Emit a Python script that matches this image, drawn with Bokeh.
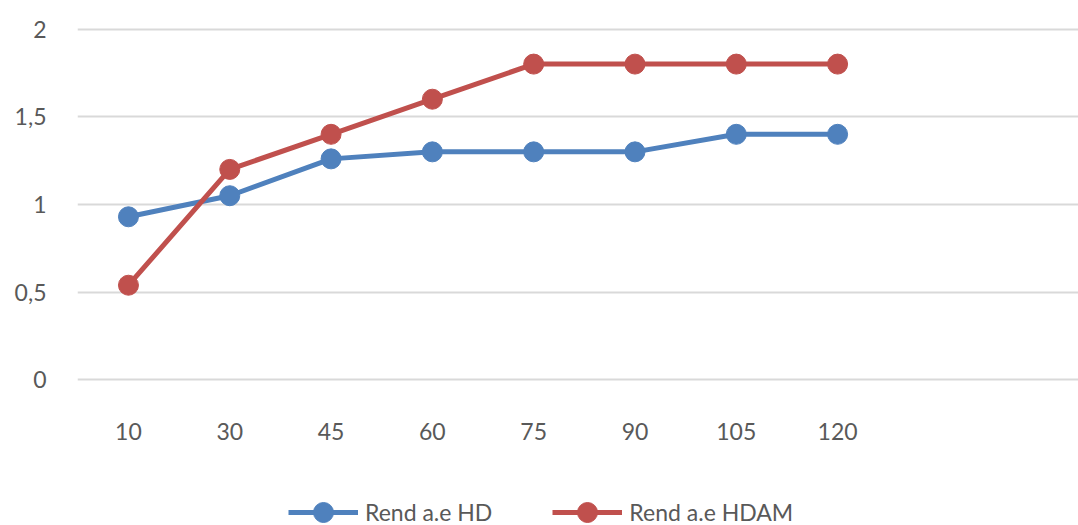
from bokeh.plotting import figure
from bokeh.layouts import column
from bokeh.models import Legend, LegendItem, FixedTicker, Range1d
from bokeh.embed import file_html
from bokeh.resources import INLINE

categories = ["10", "30", "45", "60", "75", "90", "105", "120"]
rend_hd = [0.93, 1.05, 1.26, 1.30, 1.30, 1.30, 1.40, 1.40]
rend_hdam = [0.54, 1.20, 1.40, 1.60, 1.80, 1.80, 1.80, 1.80]
y_ticks = [0, 0.5, 1, 1.5, 2]
y_tick_labels = ["0", "0,5", "1", "1,5", "2"]
series_names = ["Rend a.e HD", "Rend a.e HDAM"]

FONT = "Lato"
FONT_SIZE = "23px"
BLUE = "#4F81BD"
RED = "#C0504D"
GREY = "#595959"

x = list(range(len(categories)))

p = figure(width=1078, height=460, output_backend="svg", toolbar_location=None,
           x_range=Range1d(-0.503, 9.378), y_range=Range1d(-0.02, 2.02),
           min_border_left=77, min_border_right=0, min_border_top=25, min_border_bottom=77)
p.outline_line_color = None
p.background_fill_color = "white"
p.border_fill_color = "white"

p.xaxis.ticker = FixedTicker(ticks=x)
p.xaxis.major_label_overrides = {i: c for i, c in enumerate(categories)}
p.yaxis.ticker = FixedTicker(ticks=y_ticks)
p.yaxis.major_label_overrides = {t: l for t, l in zip(y_ticks, y_tick_labels)}

for ax in (p.xaxis, p.yaxis):
    ax.axis_line_color = None
    ax.major_tick_line_color = None
    ax.minor_tick_line_color = None
    ax.major_tick_out = 0
    ax.major_tick_in = 0
    ax.major_label_text_font = FONT
    ax.major_label_text_font_size = FONT_SIZE
    ax.major_label_text_color = GREY
p.xaxis.major_label_standoff = 39
p.yaxis.major_label_standoff = 31

p.xgrid.grid_line_color = None
p.ygrid.grid_line_color = "#D9D9D9"
p.ygrid.grid_line_width = 2

colors = [BLUE, RED]
for vals, col in zip((rend_hd, rend_hdam), colors):
    p.line(x, vals, line_color=col, line_width=5)
    p.scatter(x, vals, size=20, fill_color=col, line_color=col)

# legend strip below the chart (its frame is aligned with the chart's frame)
lg = figure(width=1078, height=65, output_backend="svg", toolbar_location=None,
            x_range=Range1d(-100, -99), y_range=Range1d(-100, -99),
            min_border_left=0, min_border_right=0, min_border_top=0, min_border_bottom=0)
lg.axis.visible = False
lg.grid.visible = False
lg.outline_line_color = None
items = []
for name, vals, col in zip(series_names, (rend_hd, rend_hdam), colors):
    ln = lg.line(x, vals, line_color=col, line_width=5)
    sc = lg.scatter(x, vals, size=20, fill_color=col, line_color=col)
    items.append(LegendItem(label=name, renderers=[ln, sc]))
legend = Legend(items=items, orientation="horizontal", location=(211, -12),
                label_text_font=FONT, label_text_font_size=FONT_SIZE, label_text_color=GREY,
                glyph_width=70, glyph_height=50, label_height=50, label_standoff=7, spacing=60,
                border_line_color=None, background_fill_alpha=0, margin=0, padding=0)
lg.add_layout(legend)

layout = column(p, lg, spacing=0)
open("out.html", "w").write(file_html(layout, INLINE))
